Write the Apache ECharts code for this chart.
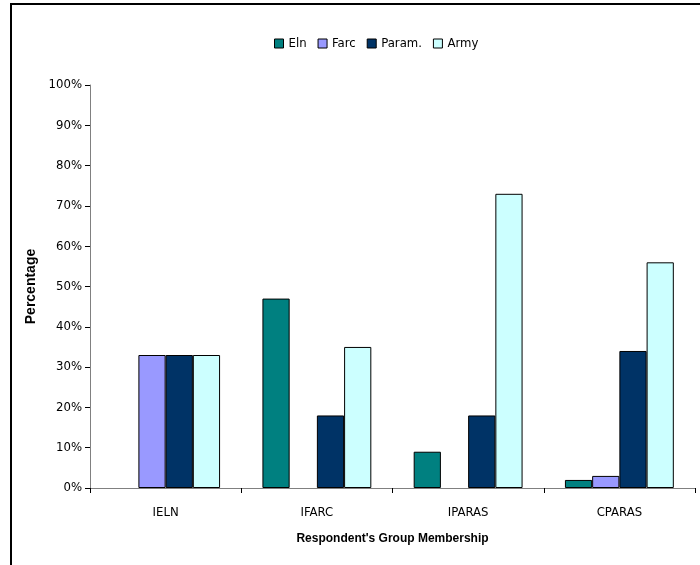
<!DOCTYPE html>
<html>
<head>
<meta charset="utf-8">
<script src="https://cdn.jsdelivr.net/npm/echarts@6/dist/echarts.min.js"></script>
<style>
  html, body { margin: 0; padding: 0; background: #fff; }
  #chart { width: 700px; height: 565px; }
</style>
</head>
<body>
<div id="chart"></div>
<script>
// Respondent groups on the x axis
var categories = ['IELN', 'IFARC', 'IPARAS', 'CPARAS'];

// Percentages per armed group, one value per respondent group
var elnValues   = [0, 47, 9, 2];
var farcValues  = [33, 0, 0, 3];
var paramValues = [33, 18, 18, 34];
var armyValues  = [33, 35, 73, 56];

var seriesNames = ['Eln', 'Farc', 'Param.', 'Army'];
var seriesColors = ['#008080', '#9999FF', '#003366', '#CCFFFF'];
var seriesData = [elnValues, farcValues, paramValues, armyValues];

var FONT = '"DejaVu Sans Condensed", "Liberation Sans", sans-serif';
var BOLD_FONT = '"Liberation Sans", Arial, sans-serif';

var chart = echarts.init(document.getElementById('chart'), null, { renderer: 'canvas' });

var series = seriesNames.map(function (name, i) {
  return {
    name: name,
    type: 'bar',
    // zero-height bars get no outline so they stay invisible
    data: seriesData[i].map(function (v) {
      return v === 0 ? { value: v, itemStyle: { borderWidth: 0 } } : v;
    }),
    barGap: '0%',
    barCategoryGap: '28%',
    itemStyle: {
      color: seriesColors[i],
      borderColor: '#000',
      borderWidth: 1
    }
  };
});

chart.setOption({
  animation: false,
  backgroundColor: '#fff',
  textStyle: { fontFamily: FONT },
  graphic: [
    // frame edges
    { type: 'rect', shape: { x: 10, y: 3, width: 690, height: 2 }, style: { fill: '#000' } },
    { type: 'rect', shape: { x: 10, y: 3, width: 2, height: 562 }, style: { fill: '#000' } }
  ],
  legend: {
    top: 32,
    left: 269,
    itemWidth: 9,
    itemHeight: 9,
    itemGap: 11,
    icon: 'rect',
    textStyle: { fontFamily: FONT, fontSize: 13, color: '#000' },
    itemStyle: { borderColor: '#000', borderWidth: 1 },
    data: seriesNames
  },
  grid: { left: 90, right: 5, top: 85, bottom: 77 },
  xAxis: {
    type: 'category',
    data: categories,
    name: "Respondent's Group Membership",
    nameLocation: 'middle',
    nameGap: 45,
    nameTextStyle: { fontFamily: BOLD_FONT, fontWeight: 'bold', fontSize: 12, color: '#000' },
    axisLine: { lineStyle: { color: '#808080', width: 1 } },
    axisTick: { show: true, length: 5, inside: false, lineStyle: { color: '#000' } },
    axisLabel: { fontFamily: FONT, fontSize: 13, color: '#000', margin: 18 },
    splitLine: { show: false }
  },
  yAxis: {
    type: 'value',
    min: 0,
    max: 100,
    interval: 10,
    name: 'Percentage',
    nameLocation: 'middle',
    nameGap: 43,
    nameRotate: 90,
    nameTextStyle: { fontFamily: BOLD_FONT, fontWeight: 'bold', fontSize: 14, color: '#000' },
    axisLine: { show: true, lineStyle: { color: '#808080', width: 1 } },
    axisTick: { show: true, length: 5, lineStyle: { color: '#000' } },
    axisLabel: { fontFamily: FONT, fontSize: 13, color: '#000', margin: 8, formatter: '{value}%' },
    splitLine: { show: false }
  },
  series: series
});
</script>
</body>
</html>
